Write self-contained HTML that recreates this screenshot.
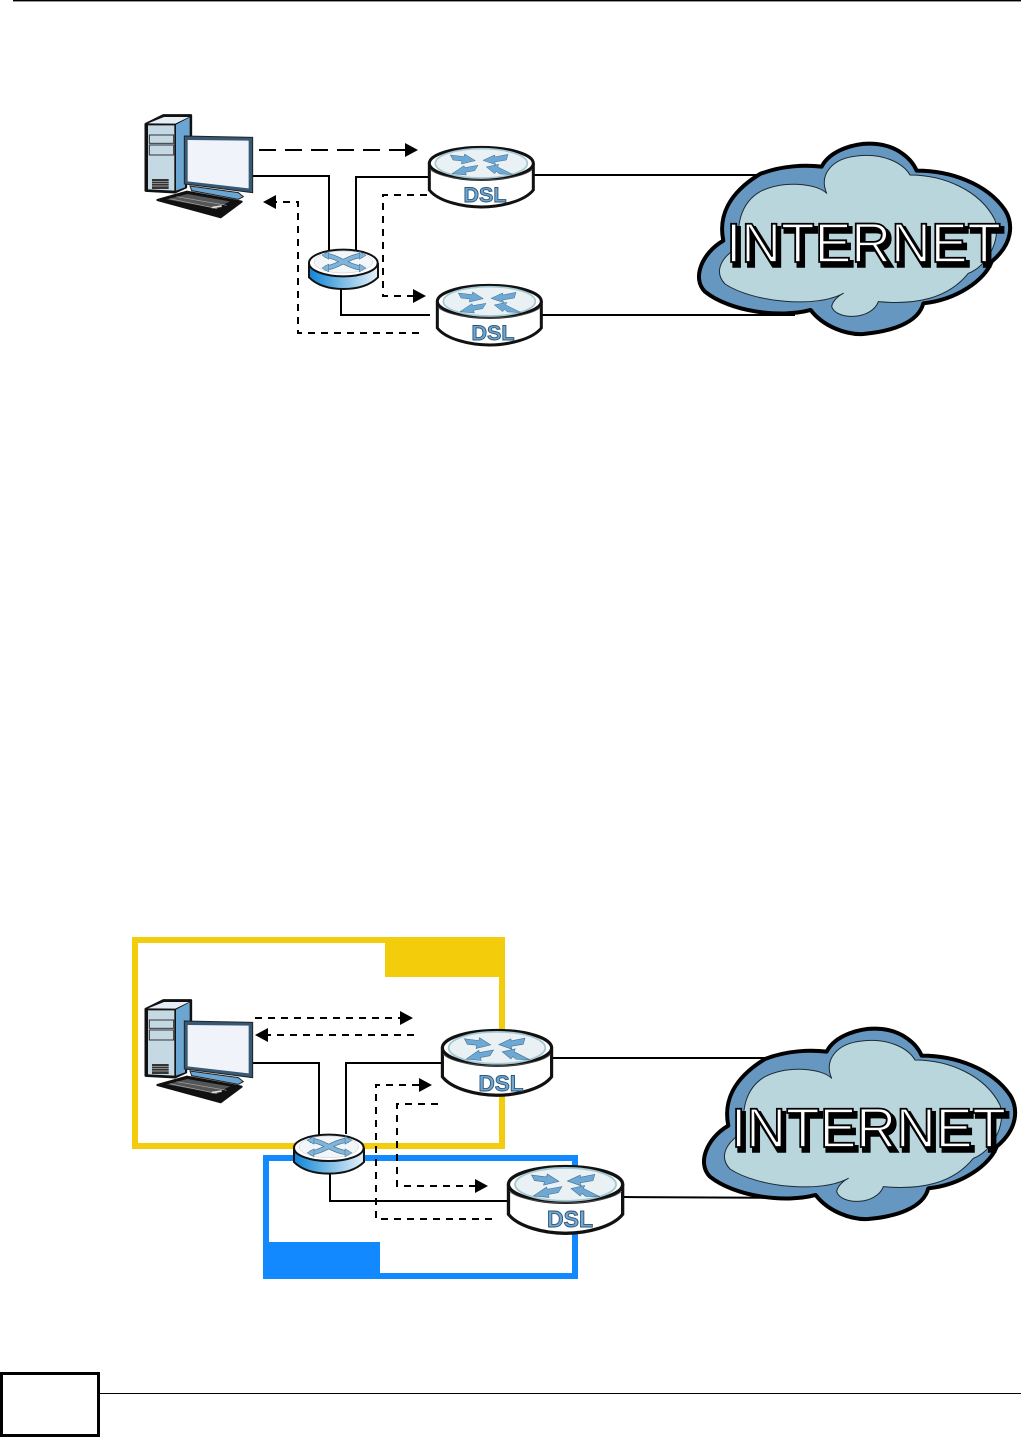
<!DOCTYPE html>
<html><head><meta charset="utf-8"><style>
html,body{margin:0;padding:0;background:#fff}
svg{display:block}
text{font-family:"Liberation Sans",sans-serif}
.s{fill:none;stroke:#000;stroke-width:2}
.d{fill:none;stroke:#000;stroke-width:2;stroke-dasharray:7 6}
.l{fill:none;stroke:#000;stroke-width:2;stroke-dasharray:17 9}
.dsl{font-weight:bold;fill:#6fa8d4;stroke:#2f5575;stroke-width:.9;text-anchor:middle}
.inet{font-size:56px;fill:#fff;stroke:#000;stroke-width:1.8}
.sh{font-size:56px;fill:#000;stroke:#000;stroke-width:3.5}
</style></head><body>
<svg width="1021" height="1437" viewBox="0 0 1021 1437" xmlns="http://www.w3.org/2000/svg">
<defs>
<linearGradient id="hg" x1="0" x2="1" y1="0" y2="0"><stop offset="0" stop-color="#0f86d6"/><stop offset=".5" stop-color="#7dbce6"/><stop offset="1" stop-color="#e6f1f9"/></linearGradient>
<g id="pc">
<polygon points="47,132 100,106 183,106 183,175 168,175 168,322 135,337 47,332" fill="#111" stroke="#111" stroke-width="7" stroke-linejoin="round"/>
<polygon points="54,136 133,136 133,332 54,328" fill="#c5d9e4"/>
<polygon points="54,130 102,111 177,111 136,131" fill="#e6edf5"/>
<polygon points="138,134 179,112 179,170 165,170 165,322 138,332" fill="#6ba6d2"/>
<rect x="58" y="165" width="73" height="25" fill="#c5d9e4" stroke="#333" stroke-width="3"/>
<rect x="58" y="195" width="73" height="30" fill="#c5d9e4" stroke="#333" stroke-width="3"/>
<rect x="66" y="297" width="50" height="30" fill="#333"/>
<g stroke="#bbb" stroke-width="2"><path d="M66 304H116M66 311H116M66 318H116"/></g>
<polygon points="180,318 325,338 340,350 325,358 185,332" fill="#6ba6d2" stroke="#222" stroke-width="3"/>
<polygon points="163,168 368,172 368,338 163,312" fill="#365a75" stroke="#222" stroke-width="3"/>
<polygon points="173,180 356,182 356,325 173,304" fill="#f0f3f9"/>
<polygon points="82,360 170,335 335,365 272,412" fill="#111" stroke="#111" stroke-width="6" stroke-linejoin="round"/>
<polygon points="110,358 172,342 300,364 258,385" fill="#555"/>
<path d="M120 356 262 386M140 350 290 376" stroke="#aaa" stroke-width="2" fill="none"/>
<rect x="245" y="378" width="30" height="5" fill="#ddd" transform="rotate(-8 260 380)"/>
</g>
<g id="r">
<path d="M4,55 V132 C30,165 100,183 160,183 C220,183 290,165 316,132 V55 Z" fill="#fff" stroke="#111" stroke-width="9"/>
<ellipse cx="160" cy="52" rx="156" ry="48" fill="#fff" stroke="#111" stroke-width="9"/>
<path d="M6,70 C50,112 270,112 314,70" fill="none" stroke="#555" stroke-width="2"/>
<ellipse cx="160" cy="52" rx="138" ry="44" fill="#e9f1f4" stroke="#a5c8d2" stroke-width="5"/>
<g fill="#6ea8d4" stroke="#3d6a8c" stroke-width="1.5">
<polygon points="67,27 108,32 110,24 142,44 100,54 102,45 75,42"/>
<polygon points="165,43 200,27 200,33 240,25 235,42 200,48 203,56"/>
<polygon points="72,83 108,59 110,65 150,58 140,74 112,79 115,87"/>
<polygon points="175,63 212,55 209,63 254,85 215,84 205,76 200,83"/>
</g>
</g>
<g id="h">
<path d="M3,48 V88 C30,115 70,123 106,123 C142,123 183,115 210,88 V48 Z" fill="url(#hg)" stroke="#111" stroke-width="6"/>
<ellipse cx="106" cy="45" rx="103" ry="40" fill="#fff" stroke="#111" stroke-width="6"/>
<ellipse cx="106" cy="42" rx="88" ry="33" fill="#f2f6f8" stroke="#aac" stroke-width="1"/>
<path d="M50,22 C85,22 125,60 165,60 M165,22 C125,22 85,60 50,60" fill="none" stroke="#3f6f92" stroke-width="15"/>
<path d="M50,22 C85,22 125,60 165,60 M165,22 C125,22 85,60 50,60" fill="none" stroke="#82b4d9" stroke-width="11"/>
<g fill="#82b4d9" stroke="#3f6f92" stroke-width="1.5"><polygon points="42,22 62,10 62,34"/><polygon points="42,60 62,48 62,72"/><polygon points="174,22 154,10 154,34"/><polygon points="174,60 154,48 154,72"/></g>
</g>
<g id="cloud">
<path d="M395,110 C420,60 500,35 560,42 C620,48 665,85 680,122 C780,122 890,160 945,240 C970,280 970,340 905,395 C885,450 800,510 700,520 C685,580 600,605 520,612 C470,615 400,590 362,540 C270,565 120,545 45,485 C5,445 35,370 100,332 C85,260 115,190 210,132 C280,105 350,105 395,110 Z" fill="#6597c0" stroke="#000" stroke-width="12" stroke-linejoin="round"/>
<path d="M410,190 C385,130 430,85 500,78 C580,68 640,100 660,135 C760,135 870,180 915,270 C935,330 890,410 835,430 C775,505 680,525 565,515 C545,570 440,572 425,530 C428,510 450,495 460,490 C380,535 190,518 105,462 C65,420 105,370 150,350 C138,290 150,220 210,185 C280,150 380,160 410,190 Z" fill="#bad6dd" stroke="#1d2a33" stroke-width="3" stroke-linejoin="round"/>
</g>
</defs>

<rect x="13" y="0" width="1008" height="1.4" fill="#000"/>

<!-- Diagram 1 -->
<path class="s" d="M252,176H329V250"/>
<path class="s" d="M356,250V177H428"/>
<path class="s" d="M534,175H765"/>
<path class="s" d="M541,315H795"/>
<path class="s" d="M341,287V315H430"/>
<path class="l" d="M259,150H405"/><polygon points="405,143 418,150 405,157"/>
<path class="d" d="M427,195H383V296H414"/><polygon points="413,289 426,296 413,303"/>
<path class="d" d="M419,333H298V202H275"/><polygon points="276,195 263,202 276,209"/>

<use href="#pc" transform="translate(130,80) scale(.3333)"/>
<use href="#r" transform="translate(428,146) scale(.3333)"/>
<text class="dsl" x="485" y="202" font-size="21" textLength="43" lengthAdjust="spacingAndGlyphs">DSL</text>
<use href="#r" transform="translate(436,284) scale(.3333)"/>
<text class="dsl" x="493" y="340" font-size="21" textLength="43" lengthAdjust="spacingAndGlyphs">DSL</text>
<use href="#h" transform="translate(308,248) scale(.3333)"/>
<use href="#cloud" transform="translate(690,130) scale(.3333)"/>
<text class="sh" x="729" y="266" textLength="275" lengthAdjust="spacingAndGlyphs">INTERNET</text>
<text class="inet" x="726" y="262" textLength="275" lengthAdjust="spacingAndGlyphs">INTERNET</text>

<!-- Diagram 2 -->
<path fill="none" stroke="#f3cd0c" stroke-width="6" d="M135,940H502V1146H135Z"/>
<rect x="385" y="937" width="120" height="40" fill="#f3cd0c"/>
<path fill="none" stroke="#1289fe" stroke-width="6" d="M266,1158H575V1276H266Z"/>
<rect x="263" y="1242" width="117" height="37" fill="#1289fe"/>

<path class="s" d="M252,1063H319V1136"/>
<path class="s" d="M346,1134V1063H442"/>
<path class="s" d="M552,1058H770"/>
<path class="s" d="M330,1174V1201H508"/>
<path class="s" d="M623,1197L805,1198"/>
<path class="d" d="M255,1018H401"/><polygon points="400,1011 413,1018 400,1025"/>
<path class="d" d="M414,1035H268"/><polygon points="268,1028 255,1035 268,1042"/>
<path class="d" d="M492,1219H376V1085H420"/><polygon points="419,1078 432,1085 419,1092"/>
<path class="d" d="M438,1104H397V1186H476"/><polygon points="475,1179 488,1186 475,1193"/>

<use href="#pc" transform="translate(130,965) scale(.3333)"/>
<use href="#r" transform="translate(441,1029) scale(.35,.362)"/>
<text class="dsl" x="501" y="1091" font-size="22" textLength="45" lengthAdjust="spacingAndGlyphs">DSL</text>
<use href="#r" transform="translate(507,1165) scale(.366,.373)"/>
<text class="dsl" x="570" y="1227" font-size="23" textLength="46" lengthAdjust="spacingAndGlyphs">DSL</text>
<use href="#h" transform="translate(293,1133) scale(.338,.33)"/>
<use href="#cloud" transform="translate(695,1015) scale(.3333)"/>
<text class="sh" x="734" y="1151" textLength="275" lengthAdjust="spacingAndGlyphs">INTERNET</text>
<text class="inet" x="731" y="1147" textLength="275" lengthAdjust="spacingAndGlyphs">INTERNET</text>

<!-- Footer -->
<rect x="100" y="1393" width="921" height="1" fill="#000"/>
<rect x="1.5" y="1373.5" width="97" height="62" fill="#fff" stroke="#000" stroke-width="3"/>
</svg>
</body></html>
